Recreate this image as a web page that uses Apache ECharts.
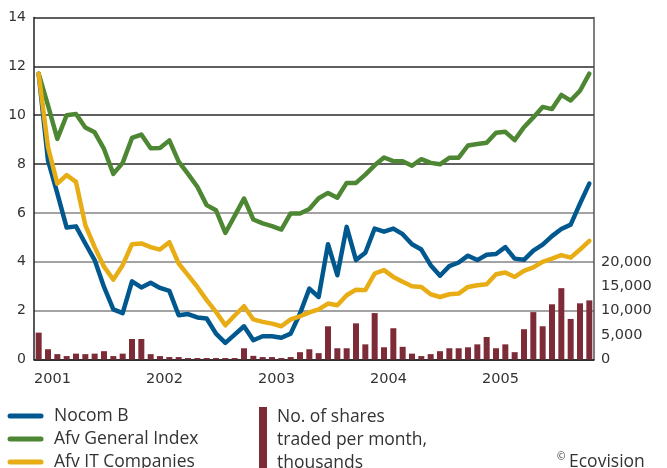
<!DOCTYPE html>
<html>
<head>
<meta charset="utf-8">
<script src="https://cdn.jsdelivr.net/npm/echarts@6/dist/echarts.min.js"></script>
<style>
html,body{margin:0;padding:0;background:#fff;}
#chart{width:667px;height:468px;}
</style>
</head>
<body>
<div id="chart"></div>
<script>
// Monthly data, Jan 2001 - Dec 2005
const months = [];
for (let y = 2001; y <= 2005; y++) for (let m = 1; m <= 12; m++) months.push(y + '-' + (m < 10 ? '0' + m : m));

const yearLabels = ['2001', '2002', '2003', '2004', '2005'];

const nocomB = [11.7, 8.15, 6.8, 5.4, 5.45, 4.75, 4.07, 2.97, 2.05, 1.9,
  3.2, 2.95, 3.14, 2.93, 2.81, 1.81, 1.86, 1.72, 1.68, 1.06,
  0.68, 1.02, 1.36, 0.79, 0.95, 0.95, 0.89, 1.06, 1.88, 2.9,
  2.56, 4.72, 3.45, 5.43, 4.07, 4.37, 5.36, 5.23, 5.36, 5.13,
  4.72, 4.5, 3.86, 3.43, 3.82, 3.97, 4.25, 4.07, 4.29, 4.32,
  4.6, 4.13, 4.08, 4.46, 4.7, 5.05, 5.34, 5.52, 6.38, 7.2];

const afvGeneral = [11.7, 10.4, 9.03, 10.0, 10.05, 9.5, 9.3, 8.62, 7.6, 8.05,
  9.07, 9.21, 8.65, 8.66, 8.97, 8.1, 7.6, 7.07, 6.32, 6.11,
  5.18, 5.88, 6.59, 5.73, 5.57, 5.46, 5.32, 5.98, 5.98, 6.16,
  6.6, 6.82, 6.62, 7.23, 7.23, 7.57, 7.95, 8.27, 8.12, 8.12,
  7.93, 8.2, 8.05, 7.99, 8.26, 8.26, 8.76, 8.82, 8.87, 9.28,
  9.32, 8.98, 9.51, 9.91, 10.34, 10.25, 10.83, 10.6, 11.0, 11.7];

const afvIT = [11.7, 8.7, 7.2, 7.55, 7.27, 5.5, 4.6, 3.8, 3.27, 3.86,
  4.72, 4.75, 4.6, 4.5, 4.8, 3.93, 3.45, 2.97, 2.43, 1.95,
  1.4, 1.8, 2.18, 1.64, 1.54, 1.47, 1.36, 1.64, 1.77, 1.93,
  2.05, 2.29, 2.22, 2.63, 2.86, 2.84, 3.52, 3.66, 3.38, 3.18,
  3.0, 2.97, 2.67, 2.56, 2.67, 2.7, 2.97, 3.04, 3.08, 3.49,
  3.56, 3.38, 3.63, 3.77, 4.0, 4.13, 4.27, 4.17, 4.5, 4.86];

const sharesTraded = [5500, 2100, 1100, 700, 1200, 1100, 1200, 1700, 700, 1200,
  4200, 4200, 1100, 700, 500, 500, 300, 300, 300, 300,
  300, 300, 2300, 750, 500, 500, 300, 500, 1500, 2100,
  1300, 6800, 2300, 2300, 7400, 3100, 9500, 2500, 6400, 2600,
  1200, 700, 1100, 1700, 2300, 2300, 2500, 3100, 4600, 2300,
  3100, 1500, 6200, 9700, 6800, 11300, 14600, 8300, 11500, 12100];

const leftTicks = [0, 2, 4, 6, 8, 10, 12, 14];
const rightTickLabels = ['0', '5,000', '10,000', '15,000', '20,000'];

const lineNames = ['Nocom B', 'Afv General Index', 'Afv IT Companies'];
const barLegendText = 'No. of shares\ntraded per month,\nthousands';

const C_BLUE = '#00588F', C_GREEN = '#4E8733', C_YELLOW = '#E8AD15', C_BAR = '#7E2B38';
const lineColors = [C_BLUE, C_GREEN, C_YELLOW];
const TXT = '#333333';
const NUMFONT = 'DejaVu Sans';
const TXTFONT = 'Open Sans';

const chart = echarts.init(document.getElementById('chart'), null, {renderer: 'canvas'});
const lineStyle = (c) => ({width: 4.5, color: c, cap: 'round', join: 'round'});

// custom legend (graphic) for line series
const legendGraphics = [];
lineNames.forEach((n, i) => {
  const cy = 416 + i * 23;
  legendGraphics.push({type: 'line', shape: {x1: 10, y1: cy, x2: 41, y2: cy},
    style: {stroke: lineColors[i], lineWidth: 5, lineCap: 'round'}});
  legendGraphics.push({type: 'text', left: 54, top: cy - 9,
    style: {text: n, fontFamily: TXTFONT, fontSize: 17.5, fill: TXT}});
});

chart.setOption({
  animation: false,
  backgroundColor: '#ffffff',
  grid: {left: 34, right: 73, top: 17.5, height: 342, containLabel: false},
  xAxis: [
    {type: 'category', data: months, boundaryGap: true,
     axisLine: {show: true, lineStyle: {color: '#222', width: 1.5}},
     axisTick: {show: false}, axisLabel: {show: false}, splitLine: {show: false}},
    {type: 'value', min: 0, max: 60, interval: 12, position: 'bottom',
     axisLine: {show: false}, axisTick: {show: false}, splitLine: {show: false},
     axisLabel: {show: true, align: 'left', margin: 12, fontFamily: NUMFONT, fontSize: 14.5, color: TXT,
       formatter: (v) => { const k = Math.round(v / 12); return k < yearLabels.length ? yearLabels[k] : ''; }}}
  ],
  yAxis: [
    {type: 'value', min: leftTicks[0], max: leftTicks[leftTicks.length - 1], interval: 2,
     axisLine: {show: true, lineStyle: {color: '#222', width: 1.5}},
     axisTick: {show: false},
     axisLabel: {margin: 8, fontFamily: NUMFONT, fontSize: 14, color: TXT},
     splitLine: {show: true, lineStyle: {width: 1.5,
       color: ['#222', '#858585', '#858585', '#858585', '#2a2a2a', '#2a2a2a', '#2a2a2a', '#2a2a2a']}}},
    {type: 'value', min: 0, max: 70000, interval: 5000, position: 'right',
     axisLine: {show: true, lineStyle: {color: '#555', width: 1.5}},
     axisTick: {show: false}, splitLine: {show: false},
     axisLabel: {margin: 7, fontFamily: NUMFONT, fontSize: 14.5, color: TXT,
       formatter: (v) => { const k = Math.round(v / 5000); return k < rightTickLabels.length ? rightTickLabels[k] : ''; }}}
  ],
  series: [
    {name: 'No. of shares traded per month, thousands', type: 'bar', xAxisIndex: 0, yAxisIndex: 1,
     data: sharesTraded, barWidth: 6, itemStyle: {color: C_BAR}, z: 1},
    {name: lineNames[0], type: 'line', xAxisIndex: 0, yAxisIndex: 0, data: nocomB,
     showSymbol: false, symbol: 'none', lineStyle: lineStyle(C_BLUE), itemStyle: {color: C_BLUE}, z: 3},
    {name: lineNames[1], type: 'line', xAxisIndex: 0, yAxisIndex: 0, data: afvGeneral,
     showSymbol: false, symbol: 'none', lineStyle: lineStyle(C_GREEN), itemStyle: {color: C_GREEN}, z: 3},
    {name: lineNames[2], type: 'line', xAxisIndex: 0, yAxisIndex: 0, data: afvIT,
     showSymbol: false, symbol: 'none', lineStyle: lineStyle(C_YELLOW), itemStyle: {color: C_YELLOW}, z: 3}
  ],
  graphic: legendGraphics.concat([
    {type: 'rect', left: 259, top: 407, shape: {width: 8, height: 61}, style: {fill: C_BAR}},
    {type: 'text', left: 277, top: 406, style: {text: barLegendText,
      fontFamily: TXTFONT, fontSize: 17.5, lineHeight: 23, fill: TXT}},
    {type: 'text', left: 557, top: 452, style: {text: '©', fontFamily: TXTFONT, fontSize: 10, fill: TXT}},
    {type: 'text', left: 569, top: 453, style: {text: 'Ecovision', fontFamily: TXTFONT, fontSize: 17.5, fill: TXT}}
  ])
});
</script>
</body>
</html>
